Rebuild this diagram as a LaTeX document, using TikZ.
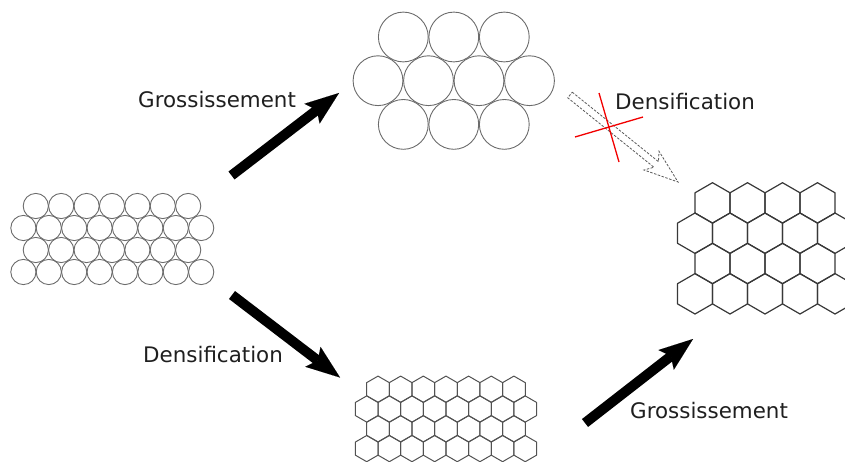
\documentclass[tikz,border=0pt]{standalone}
\usepackage{fontspec}
\setmainfont{DejaVu Sans}
\usetikzlibrary{arrows.meta,calc}
\begin{document}
\begin{tikzpicture}[x=1pt,y=-1pt,
  circ/.style={draw=black!58, line width=0.9pt},
  hexs/.style={draw=black!68, line width=1pt, line join=round},
  hexb/.style={draw=black!78, line width=1.2pt, line join=round},
  bigarrow/.style={line width=10pt, -{Stealth[length=34pt,width=25pt,inset=6pt,line width=0.01pt]}},
  lbl/.style={anchor=base west, inner sep=0pt, font=\fontsize{21.4}{26}\selectfont, text=black!88},
  redcross/.style={draw=red!95!black, line width=1.3pt},
  hollow/.style={draw=black!65, line width=0.8pt, dash pattern=on 2.5pt off 1.5pt, line join=miter}
]
\useasboundingbox (0,0) rectangle (845,462);
\clip (0,0) rectangle (845,462);

% left block of small circles
\foreach \r in {0,2} {
  \foreach \k in {0,...,6} \draw[circ] ({35.8+25.4*\k},{206+22*\r}) circle[radius=12.6pt];
}
\foreach \r in {1,3} {
  \foreach \k in {0,...,7} \draw[circ] ({23.4+25.4*\k},{206+22*\r}) circle[radius=12.6pt];
}

% top block of large circles
\foreach \r in {0,2} {
  \foreach \k in {0,...,2} \draw[circ] ({403.3+50.5*\k},{37+43.7*\r}) circle[radius=24.9pt];
}
\foreach \k in {0,...,3} \draw[circ] ({378+50.5*\k},80.7) circle[radius=24.9pt];

% bottom block of small hexagons
\foreach \r in {0,2} {
  \foreach \k in {0,...,6} \draw[hexs] ({378+22.65*\k},{389.2+19.8*\r})
    +(30:13.1pt) -- +(90:13.1pt) -- +(150:13.1pt) -- +(210:13.1pt) -- +(270:13.1pt) -- +(330:13.1pt) -- cycle;
}
\foreach \r in {1,3} {
  \foreach \k in {0,...,7} \draw[hexs] ({366.7+22.65*\k},{389.2+19.8*\r})
    +(30:13.1pt) -- +(90:13.1pt) -- +(150:13.1pt) -- +(210:13.1pt) -- +(270:13.1pt) -- +(330:13.1pt) -- cycle;
}

% right block of large hexagons
\foreach \r in {0,2} {
  \foreach \k in {0,...,3} \draw[hexb] ({712.5+35*\k},{202.9+30.3*\r})
    +(30:20.2pt) -- +(90:20.2pt) -- +(150:20.2pt) -- +(210:20.2pt) -- +(270:20.2pt) -- +(330:20.2pt) -- cycle;
}
\foreach \r in {1,3} {
  \foreach \k in {0,...,4} \draw[hexb] ({695+35*\k},{202.9+30.3*\r})
    +(30:20.2pt) -- +(90:20.2pt) -- +(150:20.2pt) -- +(210:20.2pt) -- +(270:20.2pt) -- +(330:20.2pt) -- cycle;
}

% big arrows
\coordinate (a1t) at (231.5,175.5);
\coordinate (a1h) at (339,93);
\coordinate (a2t) at (232,295);
\coordinate (a2h) at (340,377.5);
\coordinate (a3t) at (585,423);
\coordinate (a3h) at (693,339);
\draw[bigarrow] (a1t) -- (a1h);
\draw[bigarrow] (a2t) -- (a2h);
\draw[bigarrow] (a3t) -- (a3h);

% hollow dashed arrow
\coordinate (dA) at (570,95);
\coordinate (dB) at (678,182);
\coordinate (dS) at ($(dB)!28pt!(dA)$);
\coordinate (dH) at ($(dB)!34pt!(dA)$);
\draw[hollow] ($(dA)!3.6pt!90:(dB)$) -- ($(dS)!3.6pt!90:(dB)$) -- ($(dH)!12pt!90:(dB)$)
  -- (dB) -- ($(dH)!12pt!-90:(dB)$) -- ($(dS)!3.6pt!-90:(dB)$) -- ($(dA)!3.6pt!-90:(dB)$) -- cycle;

% red cross
\coordinate (c1a) at (599,93);
\coordinate (c1b) at (619,162);
\coordinate (c2a) at (575,137);
\coordinate (c2b) at (643,117);
\draw[redcross] (c1a) -- (c1b);
\draw[redcross] (c2a) -- (c2b);

% labels
\node[lbl] (g1) at (138,108) {Grossissement};
\node[lbl] (d1) at (615,110) {Densification};
\node[lbl] (d2) at (143,362) {Densification};
\node[lbl] (g2) at (630,418) {Grossissement};
\end{tikzpicture}
\end{document}
